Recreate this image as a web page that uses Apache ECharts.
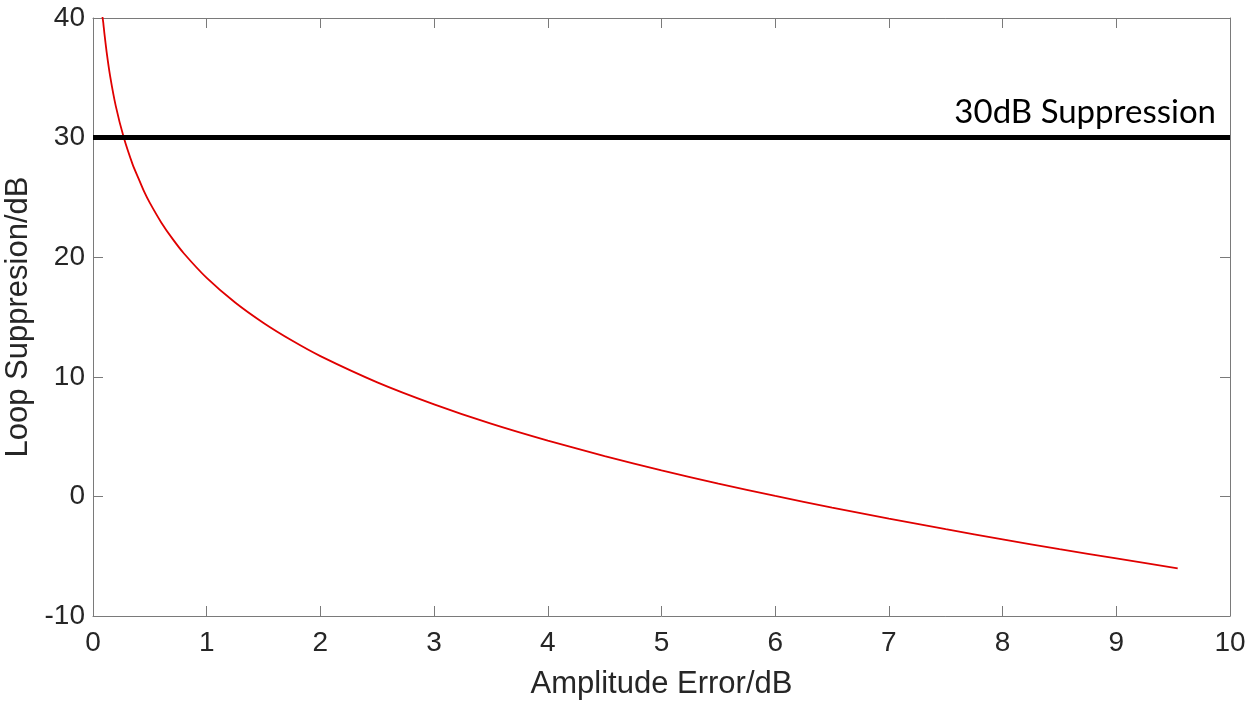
<!DOCTYPE html>
<html>
<head>
<meta charset="utf-8">
<title>Loop Suppression vs Amplitude Error</title>
<script src="https://cdn.jsdelivr.net/npm/echarts@6/dist/echarts.min.js"></script>
<style>
  html, body { margin: 0; padding: 0; background: #fff; }
  #chart { width: 1259px; height: 704px; }
</style>
</head>
<body>
<div id="chart"></div>
<script>
// Amplitude error (dB) and the resulting loop suppression (dB)
const amplitudeError = [0.08, 0.09, 0.1, 0.12, 0.15, 0.2, 0.27, 0.35, 0.4, 0.45, 0.5, 0.6, 0.7, 0.8, 1.0, 1.25, 1.5, 1.75, 2.0, 2.5, 3.0, 3.5, 4.0, 4.5, 5.0, 5.5, 6.0, 6.5, 7.0, 7.5, 8.0, 8.5, 9.0, 9.54];
const loopSuppression = [40.3, 39.64, 38.73, 37.14, 35.18, 32.65, 30.02, 27.72, 26.59, 25.48, 24.54, 22.91, 21.53, 20.31, 18.27, 16.21, 14.50, 13.03, 11.73, 9.54, 7.70, 6.08, 4.66, 3.37, 2.18, 1.07, 0.04, -0.93, -1.86, -2.74, -3.59, -4.41, -5.19, -6.02];

// Suppression target
const targetLevel = 30;
const targetLabel = '30dB Suppression';

// Axis ticks
const xTicks = [0, 1, 2, 3, 4, 5, 6, 7, 8, 9, 10];
const yTicks = [-10, 0, 10, 20, 30, 40];

const axisColor = '#7a7a7a';
const textColor = '#262626';
const axisFont = '"Liberation Sans", Arial, Helvetica, sans-serif';

const chart = echarts.init(document.getElementById('chart'), null, { renderer: 'canvas' });

const baseX = {
  type: 'value',
  min: xTicks[0],
  max: xTicks[xTicks.length - 1],
  interval: xTicks[1] - xTicks[0],
  axisLine: { show: true, onZero: false, lineStyle: { color: axisColor, width: 1 } },
  axisTick: { show: true, inside: true, length: 10, lineStyle: { color: axisColor, width: 1 } },
  splitLine: { show: false }
};
const baseY = {
  type: 'value',
  min: yTicks[0],
  max: yTicks[yTicks.length - 1],
  interval: yTicks[1] - yTicks[0],
  axisLine: { show: true, onZero: false, lineStyle: { color: axisColor, width: 1 } },
  axisTick: { show: true, inside: true, length: 10, lineStyle: { color: axisColor, width: 1 } },
  splitLine: { show: false }
};

chart.setOption({
  backgroundColor: '#ffffff',
  animation: false,
  grid: { left: 93, right: 29, top: 18, bottom: 88, containLabel: false, outerBoundsMode: 'none' },
  xAxis: [
    Object.assign({}, baseX, {
      position: 'bottom',
      name: 'Amplitude Error/dB',
      nameLocation: 'middle',
      nameGap: 53,
      nameTextStyle: { color: textColor, fontSize: 31, fontFamily: axisFont },
      axisLabel: { color: textColor, fontSize: 28, fontFamily: axisFont, margin: 13 }
    }),
    Object.assign({}, baseX, {
      position: 'top',
      axisLabel: { show: false }
    })
  ],
  yAxis: [
    Object.assign({}, baseY, {
      position: 'left',
      name: 'Loop Suppresion/dB',
      nameLocation: 'middle',
      nameGap: 46,
      nameTextStyle: { color: textColor, fontSize: 31, fontFamily: axisFont },
      axisLabel: { color: textColor, fontSize: 28, fontFamily: axisFont, margin: 8 }
    }),
    Object.assign({}, baseY, {
      position: 'right',
      axisLabel: { show: false }
    })
  ],
  series: [
    {
      name: 'target',
      type: 'line',
      xAxisIndex: 0,
      yAxisIndex: 0,
      data: [],
      markLine: {
        silent: true,
        symbol: 'none',
        animation: false,
        lineStyle: { color: '#000000', width: 5, type: 'solid' },
        label: {
          show: true,
          position: 'insideEndTop',
          formatter: targetLabel,
          color: '#000000',
          fontSize: 33,
          fontFamily: 'Lato, "Open Sans", sans-serif',
          distance: [14, 9]
        },
        data: [{ yAxis: targetLevel }]
      },
      z: 2
    },
    {
      name: 'Loop Suppression',
      type: 'line',
      xAxisIndex: 0,
      yAxisIndex: 0,
      data: amplitudeError.map((x, i) => [x, loopSuppression[i]]),
      smooth: 0.2,
      showSymbol: false,
      clip: true,
      lineStyle: { color: '#e00000', width: 1.8 },
      z: 3
    }
  ]
});
</script>
</body>
</html>
